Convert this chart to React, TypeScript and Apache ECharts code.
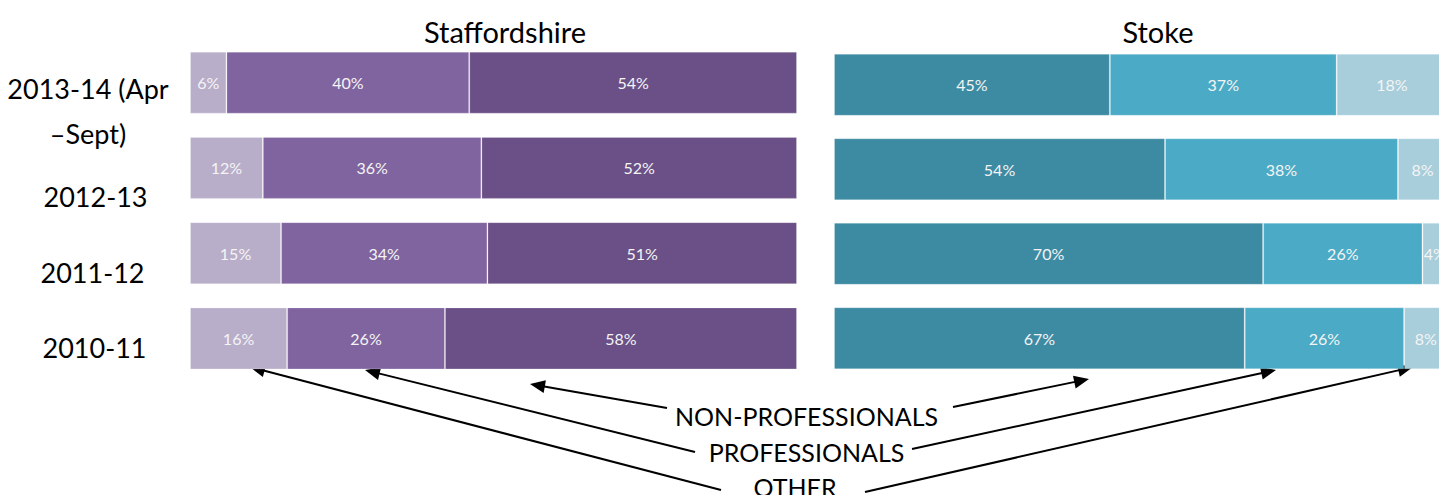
import React, { useEffect, useRef } from "react";
import * as echarts from "echarts";

// ---- data ----
const categories = ["2013-14 (Apr\n–Sept)", "2012-13", "2011-12", "2010-11"];
const panelTitles = ["Staffordshire", "Stoke"];
const seriesNames = ["Other", "Professionals", "Non-professionals"];

const staffsOther = [6, 12, 15, 16];
const staffsProf = [40, 36, 34, 26];
const staffsNonProf = [54, 52, 51, 58];

const stokeNonProf = [45, 54, 70, 67];
const stokeProf = [37, 38, 26, 26];
const stokeOther = [18, 8, 4, 8];

const annotationLabels = ["NON-PROFESSIONALS", "PROFESSIONALS", "OTHER"];

// ---- layout / styles ----
const FONT = "Lato, 'Open Sans', sans-serif";
const purple = { other: "#B9AECA", prof: "#8064A0", nonProf: "#6A5086" };
const teal = { nonProf: "#3D8BA3", prof: "#4BABC6", other: "#A8CEDC" };

const catLabelPos = [
  { x: 88, y: 111 },
  { x: 95.5, y: 196 },
  { x: 92.5, y: 272.5 },
  { x: 94.5, y: 347.5 },
];
const titlePos = [
  { x: 505, y: 31 },
  { x: 1158, y: 31 },
];
const annotationPos = [
  { x: 806.5, y: 416 },
  { x: 806.5, y: 452 },
  { x: 795, y: 487 },
];
// arrow: [fromX, fromY, tipX, tipY]
const arrows = [
  [667, 408, 530, 384],
  [953, 407, 1089, 379],
  [695, 452, 365, 370],
  [912, 449, 1276, 370],
  [721, 490, 250, 367],
  [865, 492, 1413, 367],
];

function arrowElements(a: number[]) {
  const [x1, y1, x2, y2] = a;
  const dx = x2 - x1;
  const dy = y2 - y1;
  const len = Math.hypot(dx, dy);
  const ux = dx / len;
  const uy = dy / len;
  const L = 15;
  const W = 6.5;
  const bx = x2 - ux * L;
  const by = y2 - uy * L;
  return [
    {
      type: "line",
      shape: { x1, y1, x2: bx + ux * 2, y2: by + uy * 2 },
      style: { stroke: "#000", lineWidth: 2 },
      silent: true,
    },
    {
      type: "polygon",
      shape: {
        points: [
          [x2, y2],
          [bx - uy * W, by + ux * W],
          [bx + uy * W, by - ux * W],
        ],
      },
      style: { fill: "#000" },
      silent: true,
    },
  ];
}

function textEl(text: string, x: number, y: number, size: number, extra: any = {}) {
  return {
    type: "text",
    x,
    y,
    silent: true,
    style: {
      text,
      font: `${size}px ${FONT}`,
      fill: "#000",
      textAlign: "center",
      textVerticalAlign: "middle",
      align: "center",
      verticalAlign: "middle",
      ...extra,
    },
  };
}

const labelStyle = {
  show: true,
  position: "inside",
  formatter: "{c}%",
  color: "#F4F4F4",
  fontSize: 16,
  fontFamily: FONT,
};

function barSeries(name: string, data: number[], color: string, idx: number) {
  return {
    name,
    type: "bar",
    stack: "s" + idx,
    xAxisIndex: idx,
    yAxisIndex: idx,
    data,
    barWidth: 62,
    itemStyle: {
      color,
      borderColor: "rgba(255,255,255,0.22)",
      borderWidth: 1,
    },
    label: labelStyle,
  };
}

export default function App() {
  const ref = useRef<HTMLDivElement>(null);

  useEffect(() => {
    if (!ref.current) return;
    const chart = echarts.init(ref.current, undefined, { renderer: "svg" });

    const graphic: any[] = [];
    panelTitles.forEach((t, i) => graphic.push(textEl(t, titlePos[i].x, titlePos[i].y, 29)));
    categories.forEach((c, i) =>
      graphic.push(textEl(c, catLabelPos[i].x, catLabelPos[i].y, 27, { lineHeight: 44.5 }))
    );
    annotationLabels.forEach((t, i) =>
      graphic.push(textEl(t, annotationPos[i].x, annotationPos[i].y, 25))
    );
    arrows.forEach((a) => graphic.push(...arrowElements(a)));

    const hiddenCat = (gi: number) => ({
      type: "category",
      gridIndex: gi,
      data: categories,
      inverse: true,
      show: false,
    });
    const hiddenVal = (gi: number) => ({
      type: "value",
      gridIndex: gi,
      min: 0,
      max: 100,
      show: false,
    });

    chart.setOption({
      animation: false,
      backgroundColor: "#fff",
      textStyle: { fontFamily: FONT },
      grid: [
        { left: 190, width: 607, top: 40, height: 341, outerBoundsMode: "none", containLabel: false },
        { left: 834, width: 613, top: 42.5, height: 338, outerBoundsMode: "none", containLabel: false },
      ],
      xAxis: [hiddenVal(0), hiddenVal(1)],
      yAxis: [hiddenCat(0), hiddenCat(1)],
      series: [
        barSeries(seriesNames[0], staffsOther, purple.other, 0),
        barSeries(seriesNames[1], staffsProf, purple.prof, 0),
        barSeries(seriesNames[2], staffsNonProf, purple.nonProf, 0),
        barSeries(seriesNames[2], stokeNonProf, teal.nonProf, 1),
        barSeries(seriesNames[1], stokeProf, teal.prof, 1),
        barSeries(seriesNames[0], stokeOther, teal.other, 1),
      ],
      graphic,
    });

    return () => chart.dispose();
  }, []);

  return (
    <div
      ref={ref}
      style={{ position: "absolute", left: 0, top: 0, width: 1439, height: 495, overflow: "hidden" }}
    />
  );
}
